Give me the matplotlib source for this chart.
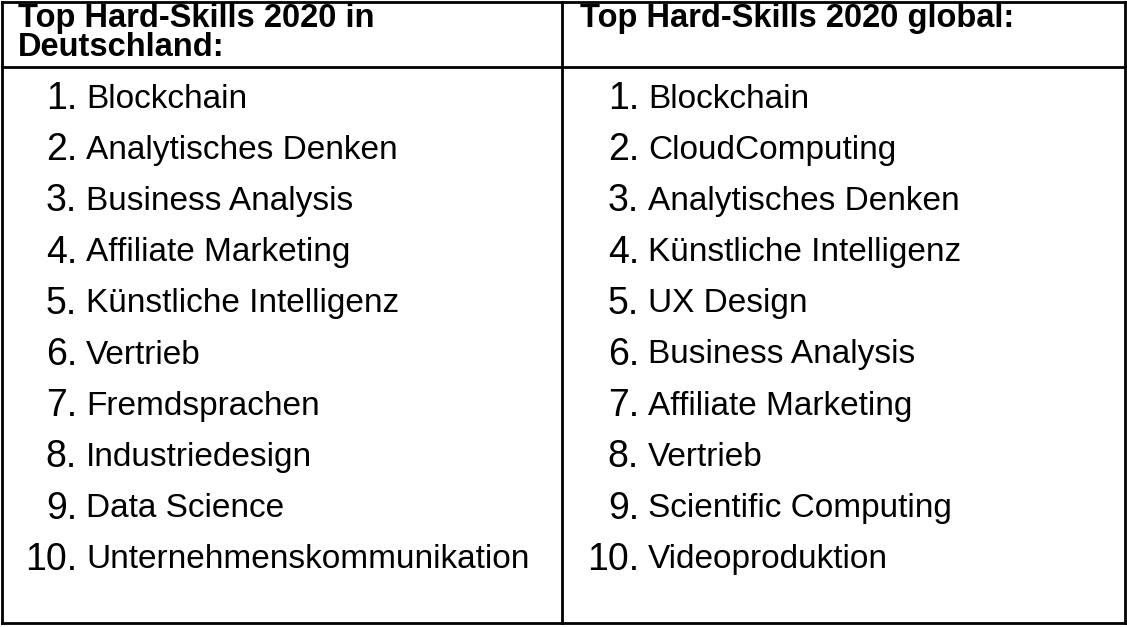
import matplotlib
matplotlib.use("Agg")
import matplotlib.pyplot as plt
from matplotlib.lines import Line2D

headers = ["Top Hard-Skills 2020 in\nDeutschland:", "Top Hard-Skills 2020 global:"]
de_skills = ["Blockchain", "Analytisches Denken", "Business Analysis", "Affiliate Marketing",
             "Künstliche Intelligenz", "Vertrieb", "Fremdsprachen", "Industriedesign",
             "Data Science", "Unternehmenskommunikation"]
gl_skills = ["Blockchain", "CloudComputing", "Analytisches Denken", "Künstliche Intelligenz",
             "UX Design", "Business Analysis", "Affiliate Marketing", "Vertrieb",
             "Scientific Computing", "Videoproduktion"]

W, H = 1127, 627
fig = plt.figure(figsize=(W/100, H/100), dpi=100)
ax = fig.add_axes([0, 0, 1, 1])
ax.set_xlim(0, W); ax.set_ylim(H, 0); ax.axis("off")

lw = 2
for (x0, y0, x1, y1) in [(2, 2, 1125, 2), (2, 623, 1125, 623), (2, 2, 2, 623),
                         (1125, 2, 1125, 623), (562, 2, 562, 623), (2, 67, 1125, 67)]:
    ax.add_line(Line2D([x0, x1], [y0, y1], color="black", lw=lw))

fam = "Liberation Sans"
ax.text(18, 3, headers[0], fontsize=23.5, fontweight="bold", family=fam, va="top", ha="left", linespacing=0.9)
ax.text(580, 3, headers[1], fontsize=23.5, fontweight="bold", family=fam, va="top", ha="left")

for col, (skills, xn, xt) in enumerate([(de_skills, 77, 86), (gl_skills, 639, 648)]):
    for i, s in enumerate(skills):
        y = 99 + i * 51.2
        ax.text(xn, y, f"{i+1}.", fontsize=27, family=fam, va="center", ha="right")
        ax.text(xt, y, s, fontsize=24, family=fam, va="center", ha="left")

fig.savefig("out.png", dpi=100)
